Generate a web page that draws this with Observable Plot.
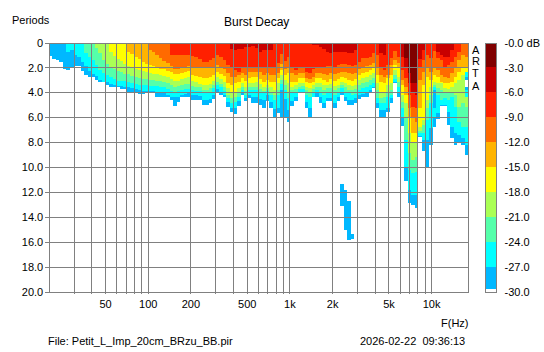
<!DOCTYPE html>
<html><head><meta charset="utf-8">
<script src="https://cdn.jsdelivr.net/npm/d3@7"></script>
<script src="https://cdn.jsdelivr.net/npm/@observablehq/plot@0.6"></script>
<style>
html,body{margin:0;padding:0;background:#fff}
#wrap{position:relative;width:544px;height:352px;overflow:hidden;font:11px "Liberation Sans",Arial,sans-serif;color:#000}
#wrap svg{position:absolute;left:0;top:0;background:transparent}
#wrap div.t{position:absolute;white-space:pre;line-height:13px}
#wrap div.v{position:absolute;white-space:pre;line-height:10px;height:10px}
</style></head><body><div id="wrap"></div>
<script>
// column edges in Hz
const edges=[20,21.2,22.4,23.8,25.2,26.7,28.3,30,31.7,33.6,35.6,37.8,
40,42.4,44.9,47.6,50.4,53.4,56.6,59.9,63.5,67.3,71.3,75.5,
80,84.8,89.8,95.1,100.8,106.8,113.1,119.9,127,134.5,142.5,151,
160,169.5,179.6,190.3,201.6,213.6,226.3,239.7,254,269.1,285.1,302,
320,339,359.2,380.5,403.2,427.2,452.5,479.5,508,538.2,570.2,604.1,
640,678.1,718.4,761.1,806.3,854.3,905.1,958.9,1015.9,1076.3,1140.4,1208.2,
1280,1356.1,1436.8,1522.2,1612.7,1708.6,1810.2,1917.9,2031.9,2152.7,2280.7,2416.3,
2560,2712.2,2873.5,3044.4,3225.5,3417.2,3620.4,3835.7,4063.8,4305.4,4561.4,4832.6,
5120,5424.5,5747,6088.8,6451,6834.5,7240.8,7671.4,8127.6,8610.8,9122.8,9665.3,
10240,10849,11494,12177.6,12902,13669,14481.7,15342.7,16255.2,17221.7,18245];

// depth (periods) reached by each decay level, per column
const d27=[1.08,1.3,1.4,1.6,2.1,2.2,2.0,1.9,1.9,2.3,
2.6,2.8,2.8,3.0,3.15,3.15,3.4,3.55,3.55,3.6,
3.75,3.75,4.0,4.0,4.0,4.1,4.1,4.0,4.0,4.05,
4.35,4.35,4.35,4.35,4.6,5.05,4.73,4.35,4.35,4.35,
4.6,4.6,4.6,5.0,5.0,4.87,4.55,4.07,4.2,4.35,
5.13,5.53,5.72,5.05,4.2,4.68,4.47,4.81,4.81,5.0,
5.27,4.65,5.27,5.99,5.67,5.93,5.93,6.33,5.05,4.65,
4.07,4.07,5.27,5.99,4.33,4.33,4.81,5.27,4.65,4.65,
5.27,4.68,4.2,4.68,5.0,5.0,4.87,4.52,4.39,4.39,
3.99,3.67,5.27,5.99,5.99,5.53,4.87,3.27,4.33,6.68,
11.05,12.82,13.0,13.27,7.53,8.68,9.93,8.2,6.8,6.1,
5.1,5.1,6.6,7.67,8.2,7.93,8.2,9.0];
const d24=[0,0,0,0,0,.8,.6,1.0,1.13,1.55,
1.9,2.3,2.5,2.7,3.0,3.15,3.2,3.3,3.4,3.5,
3.5,3.55,3.55,3.65,3.7,3.8,3.85,3.85,3.85,3.9,
3.95,4.05,4.05,4.2,4.35,4.4,4.35,4.2,4.1,4.05,
4.2,4.2,4.3,4.6,4.6,4.5,4.2,3.75,4.0,4.2,
4.73,5.27,5.27,4.65,4.0,4.47,4.2,4.4,4.33,4.5,
4.6,4.2,4.73,5.35,5.27,3.8,4.55,5.4,4.65,4.33,
3.93,3.93,4.73,5.27,4.33,4.07,4.39,4.87,4.47,4.47,
4.87,4.33,3.93,4.33,4.6,4.6,4.47,4.2,4.12,4.07,
3.8,3.53,4.87,5.4,5.4,5.27,4.47,3.13,3.93,5.93,
9.93,11.8,12.2,12.2,7.48,7.8,7.8,6.87,3.8,5.67,
5.0,5.0,5.53,6.73,7.27,7.4,7.67,8.2];
const d21=[0,0,0,0,0,0,0,0,0,0,
.87,1.13,1.4,1.8,2.2,2.45,2.6,2.73,2.95,3.05,
3.05,3.1,3.15,3.25,3.3,3.4,3.4,3.4,3.45,3.45,
3.5,3.55,3.6,3.7,3.85,3.95,3.9,3.8,3.75,3.7,
3.8,3.85,3.9,4.07,4.07,3.95,3.67,3.4,3.6,3.85,
4.47,4.87,4.73,4.33,3.8,4.2,3.8,3.8,3.8,4.0,
4.07,3.85,4.2,4.6,4.2,3.35,3.8,4.47,4.07,4.01,
3.75,3.75,4.2,4.33,4.07,3.8,3.93,4.2,4.07,3.93,
4.2,3.93,3.67,3.93,4.07,4.2,4.12,3.8,3.67,3.53,
3.4,3.21,4.47,4.87,4.81,4.33,4.2,2.95,3.53,5.27,
7.8,10.2,10.47,10.33,7.27,7.27,6.2,4.87,3.53,4.2,
4.6,4.47,4.6,4.33,5.13,6.33,6.73,6.73];
const d18=[0,0,0,0,0,0,0,0,0,0,
0,0,0,.45,.87,1.4,1.7,1.95,2.15,2.3,
2.4,2.5,2.55,2.65,2.75,2.85,2.9,2.95,3.0,3.0,
3.05,3.1,3.15,3.25,3.4,3.55,3.5,3.4,3.35,3.3,
3.48,3.55,3.6,3.8,3.8,3.67,3.4,3.13,3.33,3.53,
4.2,4.47,4.33,4.07,3.53,3.85,3.53,3.53,3.53,3.75,
3.85,3.67,3.93,4.2,3.8,3.0,3.4,3.93,3.8,3.75,
3.53,3.48,3.8,4.01,3.75,3.53,3.53,3.8,3.67,3.67,
3.8,3.67,3.4,3.59,3.8,3.8,3.75,3.4,3.27,3.13,
3.0,2.87,3.8,4.47,4.39,3.93,3.8,2.6,3.13,4.73,
5.93,8.87,9.4,9.13,7.05,6.6,5.27,4.2,3.4,3.67,
3.8,3.93,4.07,4.07,4.2,5.13,4.87,5.13];
const d15=[0,0,0,0,0,0,0,0,0,0,
0,0,0,0,0,0,0,.75,1.1,1.35,
1.5,1.75,1.9,2.0,2.1,2.2,2.3,2.4,2.45,2.5,
2.55,2.6,2.65,2.75,2.95,3.1,3.05,2.95,2.85,2.8,
3.05,3.2,3.3,3.4,3.4,3.3,3.08,2.73,2.95,3.13,
3.67,4.07,3.93,3.67,3.27,3.53,3.27,3.27,3.13,3.33,
3.53,3.4,3.53,3.8,3.27,2.6,3.0,3.27,3.53,3.4,
3.27,3.21,3.53,3.67,3.4,3.27,3.27,3.4,3.4,3.32,
3.45,3.4,3.13,3.27,3.4,3.48,3.4,3.0,2.87,2.73,
2.6,2.47,3.27,3.93,3.93,3.4,3.27,2.2,2.73,4.2,
4.87,7.27,8.07,8.07,6.79,6.2,4.6,3.53,3.13,3.27,
3.27,3.67,3.75,3.53,3.27,3.0,2.6,2.33];
const d12=[0,0,0,0,0,0,0,0,0,0,
0,0,0,0,0,0,0,0,0,0,
0,0,.8,.95,1.2,1.35,1.6,1.7,1.8,1.85,
2.0,2.1,2.15,2.25,2.4,2.55,2.55,2.45,2.35,2.25,
2.6,2.7,2.8,2.81,2.81,2.75,2.6,2.33,2.5,2.65,
3.27,3.4,3.27,3.13,2.87,3.05,2.87,2.8,2.73,2.95,
3.13,3.0,3.13,3.13,2.87,2.2,2.6,2.47,3.13,3.13,
2.87,2.87,3.13,3.27,3.13,2.87,2.87,3.0,3.13,2.95,
3.05,2.95,2.73,2.87,3.0,3.05,2.95,2.6,2.47,2.33,
2.2,2.07,2.6,3.13,3.27,2.87,2.6,1.8,2.07,3.4,
4.2,6.07,7.27,7.27,5.27,3.4,2.73,3.0,2.6,2.73,
3.13,3.27,3.27,3.13,2.73,2.33,1.93,2.07];
const d9=[0,0,0,0,0,0,0,0,0,0,
0,0,0,0,0,0,0,0,0,0,
0,0,0,0,0,0,0,0,.6,.8,
1.0,1.25,1.45,1.65,1.9,2.1,2.1,2.05,1.95,1.9,
1.93,2.0,2.05,2.07,2.07,2.07,2.07,1.8,2.0,2.15,
2.47,2.73,2.73,2.6,2.47,2.6,2.33,2.33,2.33,2.4,
2.6,2.47,2.6,2.6,2.47,1.72,2.15,1.99,2.47,2.6,
2.47,2.47,2.87,2.95,2.73,2.47,2.47,2.52,2.6,2.47,
2.52,2.47,2.39,2.39,2.47,2.55,2.47,2.15,1.99,1.88,
1.8,1.67,1.93,2.6,2.73,2.6,1.8,1.4,1.67,3.0,
3.53,5.27,6.07,6.33,3.0,2.33,2.07,2.33,2.07,2.2,
2.6,2.73,2.87,2.47,1.93,1.4,1.0,1.13];
const d6=[0,0,0,0,0,0,0,0,0,0,
0,0,0,0,0,0,0,0,0,0,
0,0,0,0,0,0,0,0,0,0,
0,0,0,0,1,1,1,1,1,1,
1.05,1.2,1.3,1.53,1.53,1.4,1.27,1.0,1.2,1.4,
1.8,2.07,2.2,2.4,2.0,2.0,2.0,2.0,2.0,2.0,
2.07,1.93,1.93,1.99,1.67,.92,1.45,1.13,1.93,2.2,
2.07,2.07,2.33,2.47,2.15,1.93,1.93,1.93,1.88,1.88,
1.93,1.8,1.72,1.72,1.8,1.88,1.8,1.53,1.27,1.27,
1.13,.87,1.0,2.07,2.2,1.8,1.27,.65,1.13,2.2,
2.87,4.2,5.13,5.27,2.07,1.4,1.0,1.27,.68,1.27,
1.4,1.93,1.8,1.53,1.13,.73,.07,0];
const d3=[0,0,0,0,0,0,0,0,0,0,
0,0,0,0,0,0,0,0,0,0,
0,0,0,0,0,0,0,0,0,0,
0,0,0,0,0,0,0,0,0,0,
0,0,0,0,0,0,0,0,0,0,
0,.5,.6,.5,.5,.4,.35,.3,.45,.75,
.6,.6,.6,0,0,0,0,0,0,0,
0,0,0,0,.2,.2,.35,.5,.75,.85,
.73,.73,.73,.73,.81,.81,.6,0,0,0,
0,0,0,.87,1.0,0,0,0,0,1.13,
2.07,3.27,4.01,4.2,1.35,.6,0,0,0,.73,
1.0,1.13,1.13,.6,.07,0,0,0];
const d0=[0,0,0,0,0,0,0,0,0,0,
0,0,0,0,0,0,0,0,0,0,
0,0,0,0,0,0,0,0,0,0,
0,0,0,0,0,0,0,0,0,0,
0,0,0,0,0,0,0,0,0,0,
0,0,0,0,0,0,0,0,0,0,
0,0,0,0,0,0,0,0,0,0,
0,0,0,0,0,0,0,0,0,0,
0,0,0,0,0,0,0,0,0,0,
0,0,0,0,0,0,0,0,0,0,
1.27,2.47,3.21,3.21,0,0,0,0,0,0,
0,0,0,0,0,0,0,0];

const bandNames=["-27","-24","-21","-18","-15","-12","-9","-6","-3","-0"];
const bandColors=["#00b8ff","#00ffff","#55ffaa","#aaff55","#ffff00","#ffb400","#ff6a00","#ff2000","#c80000","#800000"];
const layers=[d27,d24,d21,d18,d15,d12,d9,d6,d3,d0];

// detached patches: column, from, to, level
const patchCol=[82,83,84,85,108,117,117,117,117,117];
const patchFrom=[11.3,11.8,12.7,15.3,5.27,2.39,2.73,3.0,3.53,3.8];
const patchTo=[13.1,15.0,15.8,15.7,6.07,2.73,3.0,3.53,3.8,4.33];
const patchBand=["-27","-27","-27","-27","-24","-24","-27","none","-27","-24"];

const gridF=[30,40,50,60,70,80,90,100,200,300,400,500,600,700,800,900,1000,2000,3000,4000,5000,6000,7000,8000,9000,10000];
const xLabelF=[50,100,200,500,1000,2000,5000,10000];
const xLabelText=["50","100","200","500","1k","2k","5k","10k"];
const gridP=[0,2,4,6,8,10,12,14,16,18,20];
const dbTicks=[0,-3,-6,-9,-12,-15,-18,-21,-24,-27,-30];
const legendEnds=[-3,-6,-9,-12,-15,-18,-21,-24,-27,-29.6];

const cells=layers.flatMap((depth,k)=>depth.flatMap((p,i)=>p>0?[{f1:edges[i],f2:edges[i+1],p1:0,p2:p,band:bandNames[k]}]:[]));
const patches=patchCol.map((c,i)=>({f1:edges[c],f2:edges[c+1],p1:patchFrom[i],p2:patchTo[i],band:patchBand[i]}));
const colorOpt={type:"ordinal",domain:[...bandNames,"none"],range:[...bandColors,"#ffffff"]};
const font={fontFamily:"'Liberation Sans',Arial,sans-serif",fontSize:"11px",color:"#000",background:"transparent"};
const grey="#808080";

const main=Plot.plot({width:544,height:352,marginLeft:48.7,marginRight:75.7,marginTop:42.5,marginBottom:59.7,style:font,
 x:{type:"log",domain:[20,18300]},y:{domain:[0,20],reverse:true},color:colorOpt,
 marks:[
  Plot.rect(cells,{x1:"f1",x2:"f2",y1:"p1",y2:"p2",fill:"band",shapeRendering:"crispEdges"}),
  Plot.rect(patches,{x1:"f1",x2:"f2",y1:"p1",y2:"p2",fill:"band",shapeRendering:"crispEdges"}),
  Plot.ruleX(gridF,{stroke:grey,shapeRendering:"crispEdges",strokeOpacity:1}),
  Plot.ruleY(gridP,{stroke:grey,shapeRendering:"crispEdges",strokeOpacity:1}),
  Plot.frame({stroke:grey,shapeRendering:"crispEdges"}),
  Plot.axisY({ticks:gridP,tickFormat:d=>d===0?"0":d.toFixed(1),tickSize:4,tickPadding:2,stroke:grey,label:null,shapeRendering:"crispEdges",color:"#000"}),
  Plot.axisX({ticks:gridF,tickFormat:()=>"",tickSize:2,stroke:grey,label:null,shapeRendering:"crispEdges"}),
  Plot.text(xLabelF,{x:d=>d,text:(d,i)=>xLabelText[i],frameAnchor:"bottom",dy:15,fill:"#000"})
 ]});

const legend=Plot.plot({width:544,height:352,marginLeft:485,marginRight:48,marginTop:42.5,marginBottom:59.7,style:font,
 x:{domain:[0,1],axis:null},y:{domain:[-30,0]},color:{type:"ordinal",domain:bandNames,range:bandColors},
 marks:[
  Plot.rect(bandNames.slice().reverse(),{x1:()=>0,x2:()=>1,y1:(d,i)=>-3*i,y2:(d,i)=>legendEnds[i],fill:d=>d,shapeRendering:"crispEdges"}),
  Plot.frame({stroke:grey,shapeRendering:"crispEdges"}),
  Plot.axisY({anchor:"right",ticks:dbTicks,tickFormat:d=>d===0?"-0.0 dB":d.toFixed(1),tickSize:0,tickPadding:8,label:null})
 ]});

const wrap=document.getElementById("wrap");
wrap.append(main,legend);
function label(text,x,y,extra,cls){const e=document.createElement("div");e.className=cls||"t";e.textContent=text;e.style.left=x+"px";e.style.top=y+"px";Object.assign(e.style,extra||{});wrap.append(e);}
label("Periods",12,14);
label("Burst Decay",224,16,{fontSize:"12px"});
label("A",472,45,null,"v");
label("R",472,56,null,"v");
label("T",472,68,null,"v");
label("A",472,81,null,"v");
label("F(Hz)",441,317);
label("File: Petit_L_Imp_20cm_BRzu_BB.pir",48,335);
label("2026-02-22  09:36:13",360,335);
</script></body></html>
